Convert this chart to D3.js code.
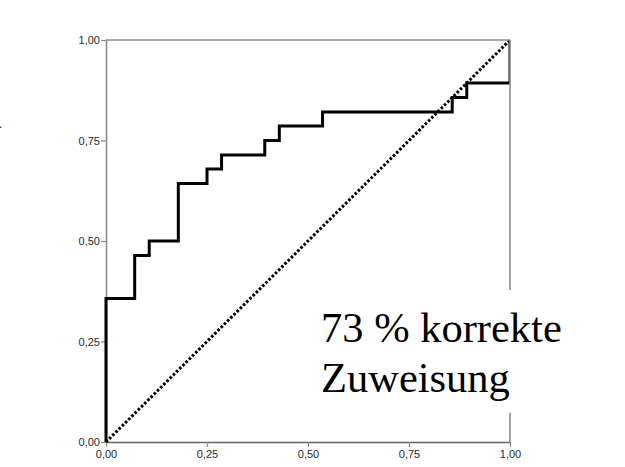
<!DOCTYPE html>
<html>
<head>
<meta charset="utf-8">
<script src="https://cdn.jsdelivr.net/npm/d3@7"></script>
<style>
  body { margin: 0; background: #fff; }
  svg { display: block; }
</style>
</head>
<body>
<div id="chart"></div>
<script>
// ROC curve corner points (1 - specificity, sensitivity)
const fpr = [0, 0.071, 0.107, 0.179, 0.25, 0.286, 0.393, 0.429, 0.536, 0.857, 0.893, 1, 1]
const tpr = [0, 0.357, 0.464, 0.5, 0.643, 0.679, 0.714, 0.75, 0.786, 0.821, 0.857, 0.893, 1]
// reference diagonal
const refLine = [0, 1]
const tickValues = [0, 0.25, 0.5, 0.75, 1]
const noteLines = ['73 % korrekte', 'Zuweisung']

const width = 625, height = 467
const margin = { top: 40, right: 115, bottom: 25, left: 106 }
const innerW = 404, innerH = 402
const frameColor = '#8c8c8c'

const svg = d3.select('#chart').append('svg')
  .attr('width', width)
  .attr('height', height)

const xSc = d3.scaleLinear().domain([0, 1]).range([0, innerW])
const ySc = d3.scaleLinear().domain([0, 1]).range([innerH, 0])

const g = svg.append('g')
  .attr('transform', `translate(${margin.left}, ${margin.top})`)

// clip only the right edge so the last vertical step sits under the frame
svg.append('defs').append('clipPath').attr('id', 'plot-clip')
  .append('rect')
  .attr('x', -4).attr('y', -2)
  .attr('width', innerW + 4).attr('height', innerH + 4)

const fmt = d => d3.format('.2f')(d).replace('.', ',')

// axes (drawn first, the curve sits on top of the left axis)
const xAxis = g.append('g')
  .attr('transform', `translate(0, ${innerH})`)
  .call(d3.axisBottom(xSc).tickValues(tickValues).tickFormat(fmt).tickSize(5).tickSizeOuter(0))
const yAxis = g.append('g')
  .call(d3.axisLeft(ySc).tickValues(tickValues).tickFormat(fmt).tickSize(5).tickSizeOuter(0))

;[xAxis, yAxis].forEach(ax => {
  ax.select('.domain').attr('stroke', frameColor).attr('stroke-width', 1.6)
  ax.selectAll('.tick line').attr('stroke', frameColor).attr('stroke-width', 1.3)
  ax.selectAll('.tick text')
    .attr('fill', '#2a2a2a')
    .style('font-family', '"Liberation Sans", Arial, sans-serif')
    .style('font-size', '11px')
})
xAxis.select('.domain').attr('stroke', '#666')
xAxis.selectAll('.tick text').attr('dy', '0.95em').attr('y', 6)
yAxis.selectAll('.tick text').attr('x', -6)

// diagonal reference line (dotted)
g.append('line')
  .attr('x1', xSc(refLine[0])).attr('y1', ySc(refLine[0]))
  .attr('x2', xSc(refLine[1])).attr('y2', ySc(refLine[1]))
  .attr('stroke', '#000')
  .attr('stroke-width', 3)
  .attr('stroke-dasharray', '2.6 1.9')

// ROC step line
const rocData = fpr.map((d, i) => [d, tpr[i]])
const lineMkr = d3.line()
  .x(d => xSc(d[0]))
  .y(d => ySc(d[1]))
  .curve(d3.curveStepBefore)

g.append('path')
  .datum(rocData)
  .attr('clip-path', 'url(#plot-clip)')
  .attr('fill', 'none')
  .attr('stroke', '#000')
  .attr('stroke-width', 3)
  .attr('d', lineMkr)

// frame: top and right borders
g.append('line')
  .attr('x1', 0).attr('x2', innerW)
  .attr('y1', 0).attr('y2', 0)
  .attr('stroke', frameColor).attr('stroke-width', 1.6)
g.append('line')
  .attr('x1', innerW).attr('x2', innerW)
  .attr('y1', 0).attr('y2', innerH)
  .attr('stroke', frameColor).attr('stroke-width', 1.6)

// annotation with white background
const note = svg.append('g').attr('class', 'note')
note.append('rect')
  .attr('x', 312).attr('y', 290)
  .attr('width', 255).attr('height', 123)
  .attr('fill', '#fff')
note.selectAll('text')
  .data(noteLines)
  .enter().append('text')
  .attr('x', 321)
  .attr('y', (d, i) => 342 + i * 50)
  .style('font-family', '"Liberation Serif", "Times New Roman", serif')
  .style('font-size', '42.5px')
  .attr('fill', '#000')
  .text(d => d)

// stray mark on the left edge of the original slide
svg.append('text')
  .attr('x', -1).attr('y', 128)
  .style('font-family', '"Liberation Sans", Arial, sans-serif')
  .style('font-size', '12px')
  .text('.')
</script>
</body>
</html>
